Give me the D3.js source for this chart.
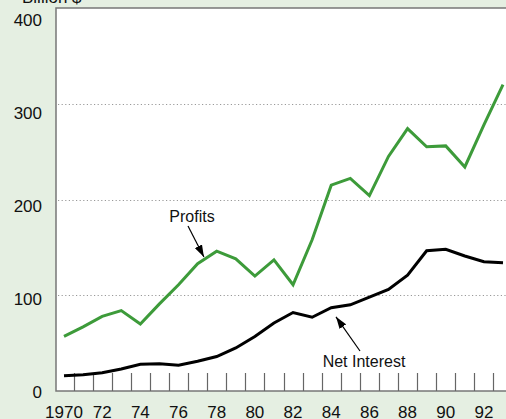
<!DOCTYPE html>
<html>
<head>
<meta charset="utf-8">
<script src="https://cdn.jsdelivr.net/npm/d3@7"></script>
<style>
  body { margin: 0; background: #e5efe2; }
  svg { display: block; font-family: "Liberation Sans", Arial, sans-serif; }
</style>
</head>
<body>
<div id="chart"></div>
<script>
// chart values
var years = d3.range(1970, 1994);
var profits = [57, 67, 78, 84, 70, 91, 111, 133, 146, 138, 120, 137, 111, 158, 215, 222, 204, 245, 274, 255, 256, 234, 278, 320];
var netInterest = [16, 17, 19, 23, 28, 28.5, 27, 31, 36, 45, 57, 71, 82, 77, 87, 90, 98, 106, 121, 146.5, 148, 141, 135, 134];
var yTicks = [0, 100, 200, 300, 400];
var xLabels = [1970, 1972, 1974, 1976, 1978, 1980, 1982, 1984, 1986, 1988, 1990, 1992];
var xLabelText = ["1970", "72", "74", "76", "78", "80", "82", "84", "86", "88", "90", "92"];

var width = 506, height = 419;
var plot = { left: 56, top: 8, bottom: 391 };

var svg = d3.select("#chart").append("svg")
  .attr("width", width)
  .attr("height", height);

var x = d3.scaleLinear().domain([1970, 1993]).range([64, 503]);
var y = d3.scaleLinear().domain([0, 400]).range([plot.bottom, plot.top]);
// the printed labels sit on a slightly tighter spacing than the gridlines
var yLab = d3.scaleLinear().domain([0, 400]).range([392, 20]);

// plot background
svg.append("rect")
  .attr("x", plot.left)
  .attr("y", plot.top)
  .attr("width", width - plot.left + 10)
  .attr("height", plot.bottom - plot.top)
  .attr("fill", "#fff")
  .attr("stroke", "#777")
  .attr("stroke-width", 1.5);

// dotted gridlines
svg.append("g")
  .selectAll("line")
  .data(yTicks.filter(function (d) { return d > 0 && d < 400; }))
  .enter().append("line")
  .attr("x1", plot.left + 2)
  .attr("x2", width)
  .attr("y1", function (d) { return Math.round(y(d)) + 0.5; })
  .attr("y2", function (d) { return Math.round(y(d)) + 0.5; })
  .attr("stroke", "#999")
  .attr("stroke-dasharray", "1.2,2.4");

// y labels
svg.append("g")
  .selectAll("text")
  .data(yTicks)
  .enter().append("text")
  .attr("x", 42)
  .attr("y", function (d) { return yLab(d); })
  .attr("dy", "0.36em")
  .attr("text-anchor", "end")
  .attr("font-size", 17)
  .attr("fill", "#111")
  .text(function (d) { return d; });

svg.append("text")
  .attr("x", 22)
  .attr("y", 3)
  .attr("font-size", 17)
  .attr("fill", "#111")
  .text("Billion $");

// year ticks (between years)
svg.append("g")
  .selectAll("line")
  .data(years.slice(0, -1))
  .enter().append("line")
  .attr("x1", function (d) { return Math.round(x(d + 0.5)) + 0.5; })
  .attr("x2", function (d) { return Math.round(x(d + 0.5)) + 0.5; })
  .attr("y1", plot.bottom)
  .attr("y2", plot.bottom - 18)
  .attr("stroke", "#666")
  .attr("stroke-width", 1.2);

svg.append("g")
  .selectAll("text")
  .data(xLabels)
  .enter().append("text")
  .attr("x", function (d) { return x(d); })
  .attr("y", 418)
  .attr("text-anchor", "middle")
  .attr("font-size", 17)
  .attr("fill", "#111")
  .text(function (d, i) { return xLabelText[i]; });

// lines
var line = d3.line()
  .x(function (d, i) { return x(years[i]); })
  .y(function (d) { return y(d); });

svg.append("path")
  .datum(profits)
  .attr("d", line)
  .attr("fill", "none")
  .attr("stroke", "#3d9b3a")
  .attr("stroke-width", 3)
  .attr("stroke-linejoin", "miter");

svg.append("path")
  .datum(netInterest)
  .attr("d", line)
  .attr("fill", "none")
  .attr("stroke", "#000")
  .attr("stroke-width", 3)
  .attr("stroke-linejoin", "miter");

// annotations
svg.append("defs").append("marker")
  .attr("id", "head")
  .attr("viewBox", "0 0 12 8")
  .attr("refX", 12)
  .attr("refY", 4)
  .attr("markerWidth", 12)
  .attr("markerHeight", 8)
  .attr("markerUnits", "userSpaceOnUse")
  .attr("orient", "auto")
  .append("path")
  .attr("d", "M0,0L12,4L0,8Z")
  .attr("fill", "#000");

var notes = [
  { text: "Profits", lx: 192, ly: 222, x1: 188, y1: 226, tipYear: 1977.33, tipVal: 140 },
  { text: "Net Interest", lx: 364, ly: 367, x1: 360, y1: 351, tipYear: 1984.25, tipVal: 77.5 }
];

notes.forEach(function (n) {
  svg.append("text")
    .attr("x", n.lx)
    .attr("y", n.ly)
    .attr("text-anchor", "middle")
    .attr("font-size", 16)
    .attr("fill", "#111")
    .text(n.text);
  svg.append("line")
    .attr("x1", n.x1)
    .attr("y1", n.y1)
    .attr("x2", x(n.tipYear))
    .attr("y2", y(n.tipVal))
    .attr("stroke", "#000")
    .attr("stroke-width", 1.2)
    .attr("marker-end", "url(#head)");
});
</script>
</body>
</html>
